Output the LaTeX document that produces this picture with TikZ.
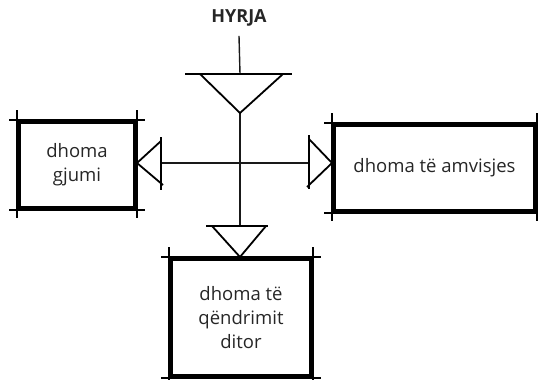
\documentclass[tikz,border=0pt]{standalone}
\usepackage{fontspec}
\setmainfont{Open Sans}
\usetikzlibrary{positioning}
\tikzset{
  roombox/.style={draw=black, line width=4pt, align=center, inner sep=2pt,
    font=\fontsize{18.5}{24}\selectfont, text=black!85},
  roomtick/.style={line width=1.3pt, draw=black},
  flowline/.style={line width=1.4pt, draw=black!90},
  wedge/.style={line width=1.8pt, draw=black, line join=miter}
}
\begin{document}
\begin{tikzpicture}[x=1pt, y=-1pt]
  \useasboundingbox (0,0) rectangle (538,380);

  % rooms
  \node[roombox, minimum width=116pt, minimum height=86pt] (gjumi)
    at (77,165) {dhoma\\gjumi};
  \node[roombox, minimum width=201pt, minimum height=86pt] (amvisje)
    at (434.5,168) {dhoma të amvisjes};
  \node[roombox, minimum width=140pt, minimum height=117pt] (qendrim)
    at (241,317.5) {dhoma të\\qëndrimit\\ditor};
  \node[font=\fontsize{18}{20}\bfseries, text=black!85] (hyrja) at (239,18)
    {HYRJA};

  \foreach \r in {gjumi,amvisje,qendrim} {
    \draw[roomtick] ([xshift=-8pt]\r.north west) -- ([xshift=8pt]\r.north east);
    \draw[roomtick] ([xshift=-8pt]\r.south west) -- ([xshift=8pt]\r.south east);
    \draw[roomtick] ([yshift=10pt]\r.north west) -- ([yshift=-8pt]\r.south west);
    \draw[roomtick] ([yshift=10pt]\r.north east) -- ([yshift=-8pt]\r.south east);
  }

  % fixed points of the paths
  \coordinate (topbar) at (240,74);
  \coordinate (topapex) at (240,113);
  \coordinate (botbar) at (240,226);
  \coordinate (lbase) at (161,163);
  \coordinate (rbase) at (309,163);

  % connectors
  \draw[flowline] ([yshift=-6pt]hyrja.south) -- (topbar);
  \draw[flowline] (topapex) -- (botbar);
  \draw[flowline] (lbase) -- (rbase);

  % wedges
  \draw[wedge] (topbar) ++(-55,0) -- ++(107,0);
  \draw[wedge] (topbar) ++(-40,0) -- (topapex) -- ++(43,-39);
  \draw[wedge] (botbar) ++(-34,0) -- ++(62,0);
  \draw[wedge] (botbar) ++(-28,0) -- ++(28,31) -- ++(26,-31);
  \draw[wedge] (lbase) ++(0,-26) -- ++(0,53);
  \draw[wedge] (lbase) ++(0,-22) -- (gjumi.east |- lbase) -- ++(26,22);
  \draw[wedge] (rbase) ++(0,-28) -- ++(0,54);
  \draw[wedge] (rbase) ++(0,-24) -- (amvisje.west |- rbase) -- ++(-25,24);
\end{tikzpicture}
\end{document}
